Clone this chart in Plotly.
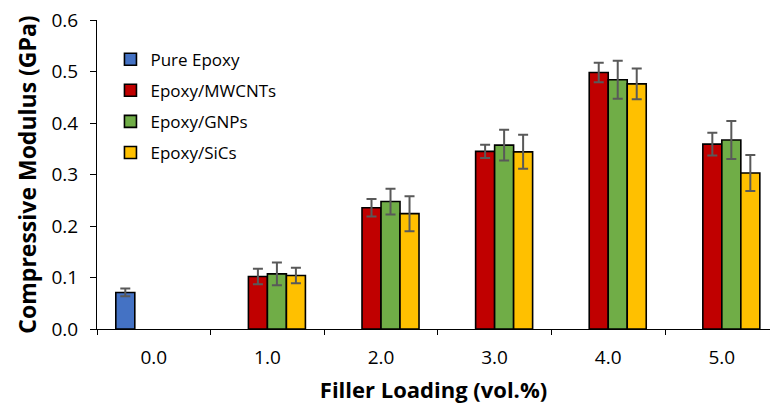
import plotly.graph_objects as go

categories = ["0.0", "1.0", "2.0", "3.0", "4.0", "5.0"]
series_names = ["Pure Epoxy", "Epoxy/MWCNTs", "Epoxy/GNPs", "Epoxy/SiCs"]
pure_epoxy = [0.071, None, None, None, None, None]
pure_epoxy_err = [0.0075, None, None, None, None, None]
mwcnts = [None, 0.102, 0.2355, 0.345, 0.498, 0.359]
mwcnts_err = [None, 0.015, 0.017, 0.013, 0.019, 0.022]
gnps = [None, 0.107, 0.2475, 0.357, 0.484, 0.367]
gnps_err = [None, 0.022, 0.025, 0.030, 0.037, 0.037]
sics = [None, 0.104, 0.224, 0.344, 0.476, 0.303]
sics_err = [None, 0.015, 0.034, 0.033, 0.030, 0.035]
colors = ["#4472C4", "#C00000", "#70AD47", "#FFC000"]
y_ticks = [0.0, 0.1, 0.2, 0.3, 0.4, 0.5, 0.6]

values = [pure_epoxy, mwcnts, gnps, sics]
errors = [pure_epoxy_err, mwcnts_err, gnps_err, sics_err]

fig = go.Figure()
for name, vals, errs, col in zip(series_names, values, errors, colors):
    fig.add_trace(go.Bar(
        x=categories, y=vals, name=name, legendgroup=name,
        marker=dict(color=col, line=dict(color="#000000", width=1.6)),
        error_y=dict(type="data", array=errs, visible=True,
                     color="#595959", thickness=2, width=5),
    ))

fig.update_layout(
    width=770, height=410,
    margin=dict(l=97, r=0, t=20, b=81),
    paper_bgcolor="white", plot_bgcolor="white",
    barmode="group", bargap=0.331, bargroupgap=0,
    font=dict(family="Open Sans", color="#000000"),
    showlegend=True,
    legend=dict(
        x=0.02, y=0.93, xanchor="left", yanchor="top",
        font=dict(family="Open Sans", size=17, color="#000000"),
        traceorder="grouped", tracegroupgap=6,
        bgcolor="rgba(0,0,0,0)",
    ),
    xaxis=dict(
        type="category", range=[-0.5, 5.424],
        tickson="boundaries", ticks="outside", ticklen=5, tickcolor="#000000",
        showline=True, linecolor="#000000", linewidth=1.2,
        showgrid=False, zeroline=False,
        tickfont=dict(size=19), ticklabelstandoff=11,
        title=dict(text="<b>Filler Loading (vol.%)</b>", font=dict(size=22), standoff=13),
    ),
    yaxis=dict(
        range=[0, 0.6], tickvals=y_ticks, tickformat=".1f",
        ticks="outside", ticklen=6, tickcolor="#000000",
        showline=True, linecolor="#000000", linewidth=1.2,
        showgrid=False, zeroline=False,
        tickfont=dict(size=19), ticklabelstandoff=8,
        title=dict(text="<b>Compressive Modulus (GPa)</b>", font=dict(size=23), standoff=8),
    ),
)

fig.write_html("out.html")
